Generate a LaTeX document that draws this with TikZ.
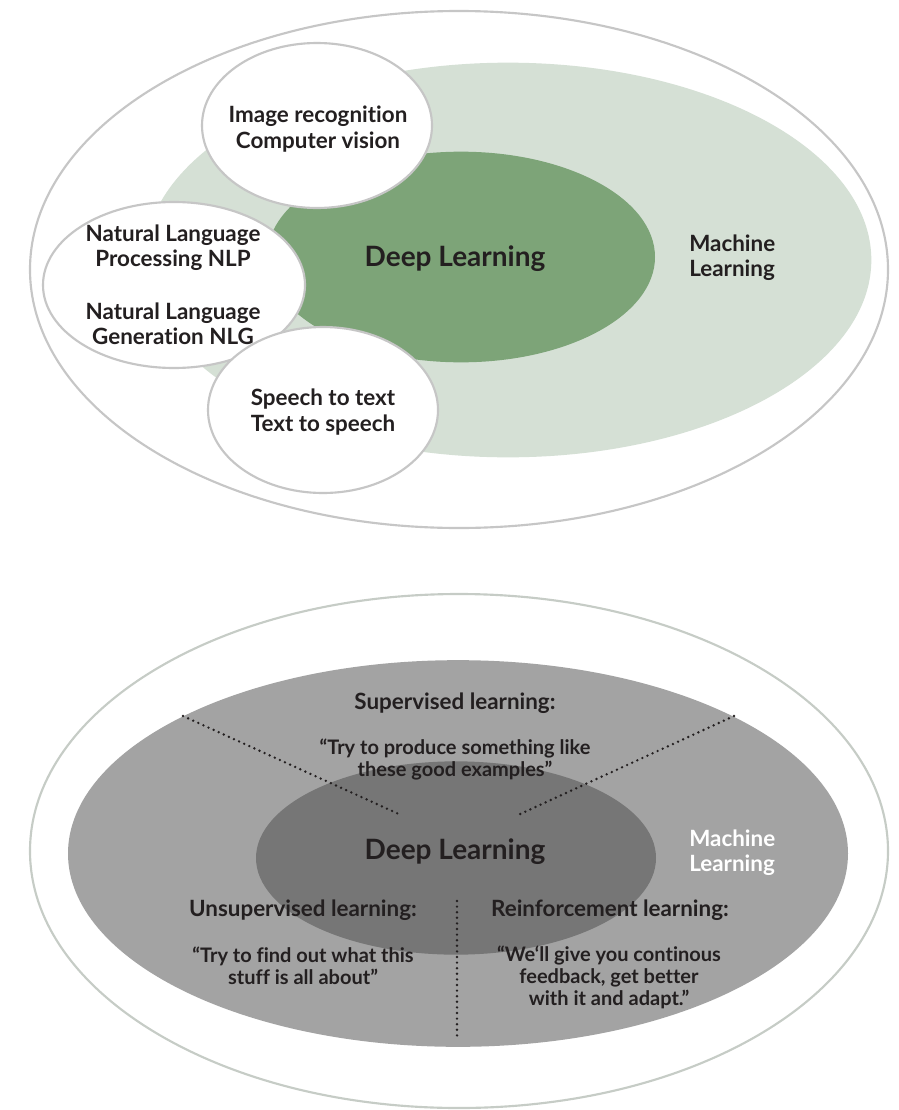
\documentclass[tikz,border=0pt]{standalone}
\usepackage{fontspec}
\setmainfont{Lato}[Ligatures={ResetAll,NoCommon}]
\usetikzlibrary{shapes.geometric}
\definecolor{txt}{HTML}{231F20}
\definecolor{lgreen}{HTML}{D5E0D5}
\definecolor{dgreen}{HTML}{7DA478}
\definecolor{rimgray}{HTML}{C6C6C6}
\definecolor{rimgreen}{HTML}{C6CCC6}
\definecolor{midgray}{HTML}{A3A3A3}
\definecolor{darkgray}{HTML}{767676}
\tikzset{
  blob/.style={ellipse, inner sep=0pt, outer sep=0pt},
  rim/.style={blob, draw=rimgray, line width=1.6pt, fill=white},
  bubble/.style={blob, draw=rimgray, line width=1.6pt, fill=white},
  lbl/.style={font=\bfseries\fontsize{16.8}{19}\selectfont, text=txt, align=center, inner sep=0pt},
  big/.style={font=\bfseries\fontsize{21}{24}\selectfont, text=txt, inner sep=0pt},
  quote/.style={font=\bfseries\fontsize{15}{16.5}\selectfont, text=txt, align=center, inner sep=0pt},
  divider/.style={line width=2pt, dash pattern=on 0pt off 4.2pt, line cap=round, draw=txt}
}
\begin{document}
\begin{tikzpicture}[x=0.75pt,y=-0.75pt]
\useasboundingbox (0,0) rectangle (899,1110);
% ---------- top diagram ----------
\node[rim, minimum width=643.5pt, minimum height=387.75pt] (outerA) at (459,269.5) {};
\node[blob, fill=lgreen, minimum width=545pt, minimum height=296pt] (mlA) at (508,260) {};
\node[blob, fill=dgreen, minimum width=291pt, minimum height=158pt] (dlA) at (461,257) {};
\node[bubble, minimum width=172.5pt, minimum height=123.75pt] (img) at (317,125.5) {};
\node[bubble, minimum width=196.5pt, minimum height=124.5pt] (nlp) at (174,285) {};
\node[bubble, minimum width=172.5pt, minimum height=124.5pt] (sp) at (323,410) {};
\node[lbl] (imgT) at (318,129) {Image recognition\\Computer vision};
\node[lbl] (nlpT1) at (173,248) {Natural Language\\Processing NLP};
\node[lbl] (nlpT2) at (173,324) {Natural Language\\Generation NLG};
\node[lbl] (spT) at (323,412) {Speech to text\\Text to speech};
\node[big] (dlAT) at (455,259) {Deep Learning};
\node[lbl, anchor=west, align=left] (mlAT) at (689,258) {Machine\\Learning};
% ---------- bottom diagram ----------
\node[rim, draw=rimgreen, minimum width=643.5pt, minimum height=385.5pt] (outerB) at (459,851) {};
\node[blob, fill=midgray, minimum width=585pt, minimum height=290pt] (mlB) at (458,853.5) {};
\node[blob, fill=darkgray, minimum width=300pt, minimum height=145pt] (dlB) at (456,858) {};
\coordinate (dl1) at (183,716);
\coordinate (dl2) at (401,815);
\coordinate (dr1) at (734,716);
\coordinate (dr2) at (518,815);
\coordinate (dv1) at (457,901);
\coordinate (dv2) at (457,1038);
\draw[divider] (dl1) -- (dl2);
\draw[divider] (dr1) -- (dr2);
\draw[divider] (dv1) -- (dv2);
\node[lbl] (supT) at (455,703) {Supervised learning:};
\node[quote] (supQ) at (455,759) {“Try to produce something like\\these good examples”};
\node[big] (dlBT) at (455,852) {Deep Learning};
\node[lbl, anchor=west, align=left, text=white] (mlBT) at (689,853) {Machine\\Learning};
\node[lbl] (unT) at (303,910) {Unsupervised learning:};
\node[quote] (unQ) at (303,966) {“Try to find out what this\\stuff is all about”};
\node[lbl] (reT) at (610,910) {Reinforcement learning:};
\node[quote] (reQ) at (609,977) {“We`ll give you continous\\feedback, get better\\with it and adapt.”};
\end{tikzpicture}
\end{document}
